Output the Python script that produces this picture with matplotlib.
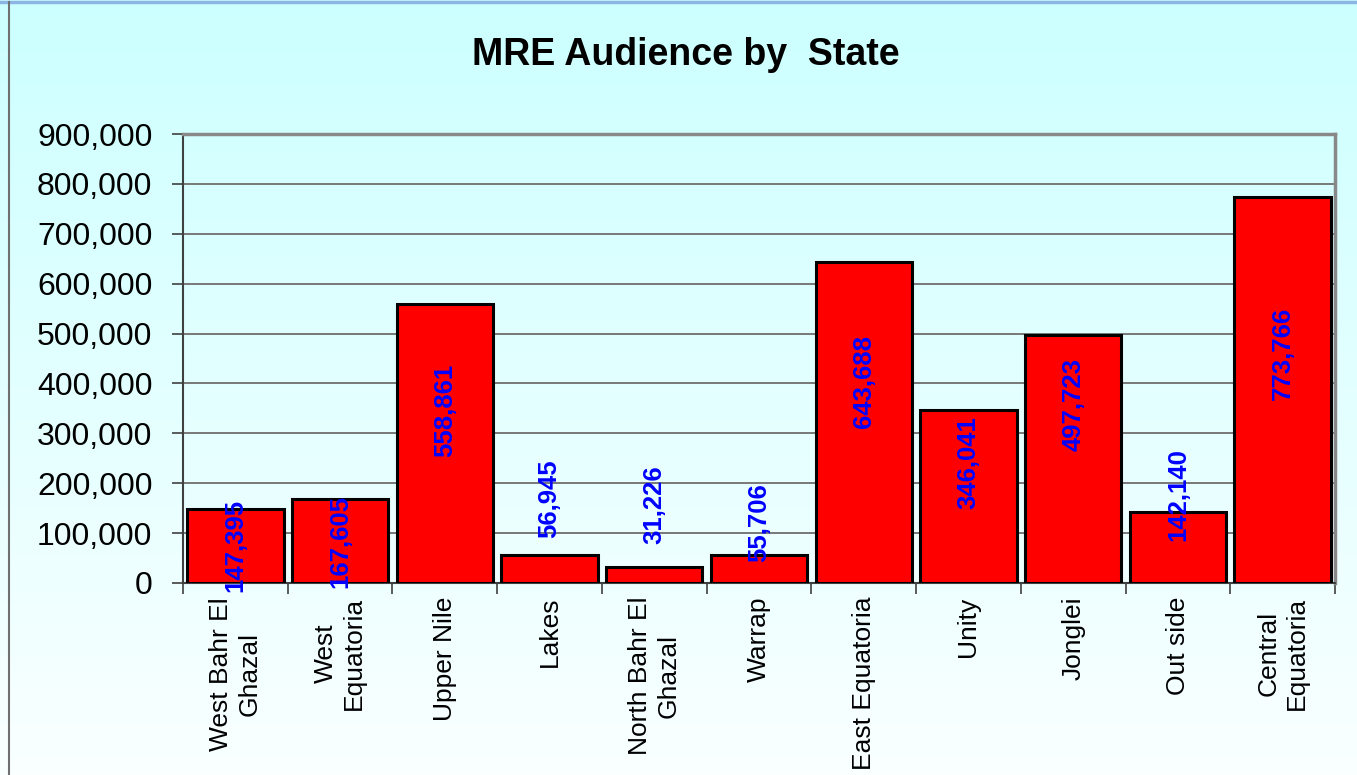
import numpy as np
import matplotlib
matplotlib.use("Agg")
import matplotlib.pyplot as plt
from matplotlib.ticker import FuncFormatter, FixedLocator, NullFormatter
from matplotlib.lines import Line2D

plt.rcParams['font.family'] = ['Liberation Sans', 'DejaVu Sans']

categories = ["West Bahr El\nGhazal", "West\nEquatoria", "Upper Nile", "Lakes",
              "North Bahr El\nGhazal", "Warrap", "East Equatoria", "Unity",
              "Jonglei", "Out side", "Central\nEquatoria"]
values = [147395, 167605, 558861, 56945, 31226, 55706, 643688, 346041,
          497723, 142140, 773766]
# vertical centre of each data label (data units), as placed in the reference
label_y = [76200, 82200, 346800, 168400, 156300, 120300, 402900, 240500,
           356800, 176400, 461000]
yticks = list(range(0, 900001, 100000))
title = "MRE Audience by  State"

W, H = 1357, 775
fig = plt.figure(figsize=(W / 100, H / 100), dpi=100)

# background gradient
bg = fig.add_axes([0, 0, 1, 1], zorder=-10)
top = np.array([204, 255, 255]) / 255.0
bot = np.array([250, 255, 255]) / 255.0
t = np.linspace(0, 1, 256)[:, None]
grad = top[None, :] * (1 - t) + bot[None, :] * t
bg.imshow(grad[:, None, :], aspect='auto', extent=[0, 1, 0, 1])
bg.set_axis_off()
bg.set_xlim(0, 1)
bg.set_ylim(0, 1)
# chart-area border lines
fig.add_artist(Line2D([0, 1], [1 - 1.5 / H, 1 - 1.5 / H], color='#8EB4E3', lw=2.5))
fig.add_artist(Line2D([8.5 / W, 8.5 / W], [0, 1 - 2 / H], color='#707070', lw=1.5))

left, right = 183 / W, 1335 / W
bottom, topy = 1 - 583 / H, 1 - 134 / H
ax = fig.add_axes([left, bottom, right - left, topy - bottom])
ax.patch.set_alpha(0)

x = np.arange(len(categories))
ax.bar(x, values, width=0.92, color='#FF0000', edgecolor='black', linewidth=2.2, zorder=3)

ax.set_xlim(-0.5, len(categories) - 0.5)
ax.set_ylim(0, 900000)
ax.set_yticks(yticks)
ax.yaxis.set_major_formatter(FuncFormatter(lambda v, p: f"{int(v):,}"))
ax.grid(axis='y', color='#787878', linewidth=1.4, zorder=0)
ax.set_axisbelow(True)

# x: tick marks at boundaries, labels at centres
ax.xaxis.set_major_locator(FixedLocator(np.arange(-0.5, len(categories), 1.0)))
ax.xaxis.set_major_formatter(NullFormatter())
ax.xaxis.set_minor_locator(FixedLocator(x))
ax.set_xticklabels(categories, minor=True, rotation=90, fontsize=19,
                   ha='center', va='top', multialignment='center')
ax.tick_params(axis='x', which='minor', length=0, pad=10)
ax.tick_params(axis='x', which='major', length=8, width=1.2, color='#404040')
ax.tick_params(axis='y', length=8, width=1.2, color='#404040', labelsize=23, pad=14)

for s in ['left', 'bottom']:
    ax.spines[s].set_color('#404040')
    ax.spines[s].set_linewidth(1.5)
for s in ['top', 'right']:
    ax.spines[s].set_color('#888888')
    ax.spines[s].set_linewidth(2.5)

for xi, v, ly in zip(x, values, label_y):
    ax.text(xi, ly, f"{v:,}", rotation=90, ha='center', va='center',
            color='#0000FF', fontsize=18.5, fontweight='bold', zorder=5)

fig.text(686 / W, 1 - 55 / H, title, ha='center', va='center',
         fontsize=27, fontweight='bold')

fig.savefig("out.png", dpi=100)
